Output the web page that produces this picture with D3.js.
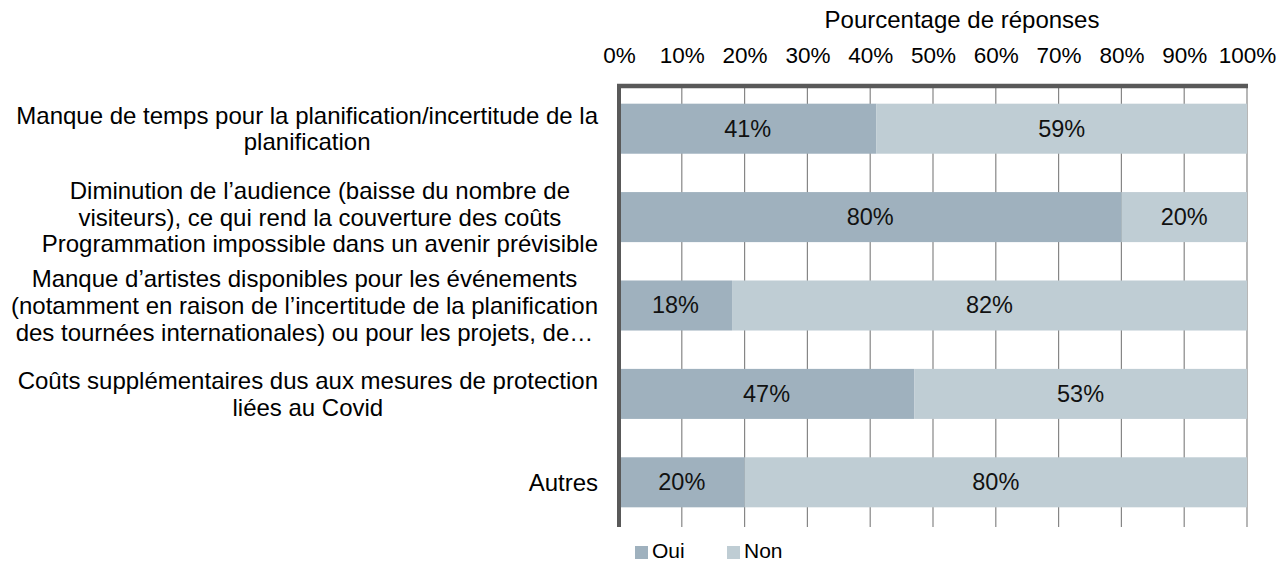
<!DOCTYPE html>
<html lang="fr">
<head>
<meta charset="UTF-8">
<title>Pourcentage de réponses</title>
<script src="https://cdnjs.cloudflare.com/ajax/libs/d3/7.8.5/d3.min.js"></script>
<style>
    body { margin: 0; background: #fff; }
    svg { font-family: 'Liberation Sans', Arial, sans-serif; }
</style>
</head>
<body>
<svg id="chart" width="1281" height="566"></svg>
<script>
    // categories (one entry per bar, already split into lines as in the picture)
    const categories = [
        ["Manque de temps pour la planification/incertitude de la", "planification"],
        ["Diminution de l\u2019audience (baisse du nombre de", "visiteurs), ce qui rend la couverture des coûts", "Programmation impossible dans un avenir prévisible"],
        ["Manque d\u2019artistes disponibles pour les événements", "(notamment en raison de l\u2019incertitude de la planification", "des tournées internationales) ou pour les projets, de\u2026"],
        ["Coûts supplémentaires dus aux mesures de protection", "liées au Covid"],
        ["Autres"]
    ];
    const oui = [41, 80, 18, 47, 20];
    const non = [59, 20, 82, 53, 80];
    const seriesNames = ["Oui", "Non"];
    const seriesColors = ["#9fb1be", "#bfcdd4"];
    const tickValues = [0, 10, 20, 30, 40, 50, 60, 70, 80, 90, 100];

    const svg = d3.select("#chart");
    const plotLeft = 619, plotRight = 1247, plotTop = 85, plotBottom = 527;

    const x = d3.scaleLinear().domain([0, 100]).range([plotLeft, plotRight]);
    const y = d3.scaleBand().domain(d3.range(categories.length))
        .range([plotTop - 0.5, plotBottom - 0.5]).paddingInner(0.434).paddingOuter(0.217);

    // title
    svg.append("text")
        .attr("x", 962)
        .attr("y", 28)
        .attr("text-anchor", "middle")
        .attr("font-size", 24)
        .attr("fill", "#000")
        .text("Pourcentage de réponses");

    // top axis labels
    const axis = svg.append("g")
        .attr("transform", `translate(0,${plotTop})`)
        .call(d3.axisTop(x).tickValues(tickValues).tickSize(0).tickPadding(22).tickFormat(d => d + "%"));
    axis.select(".domain").remove();
    axis.attr("font-family", null);
    axis.selectAll("text").attr("font-size", 22.5).attr("fill", "#000").attr("dy", 0);

    // gridlines
    svg.append("g").selectAll("line")
        .data(tickValues.slice(1))
        .enter().append("line")
        .attr("x1", d => x(d)).attr("x2", d => x(d))
        .attr("y1", plotTop).attr("y2", plotBottom)
        .attr("stroke", "#868686")
        .attr("stroke-width", 1.2);

    // stacked bars
    const rows = categories.map((c, i) => ({ i, values: [oui[i], non[i]] }));
    const seg = svg.append("g").selectAll("g")
        .data(rows)
        .enter().append("g");

    seg.each(function(d) {
        const g = d3.select(this);
        let start = 0;
        d.values.forEach((v, k) => {
            g.append("rect")
                .attr("x", x(start))
                .attr("y", y(d.i))
                .attr("width", x(start + v) - x(start))
                .attr("height", y.bandwidth())
                .attr("fill", seriesColors[k]);
            g.append("text")
                .attr("x", x(start + v / 2))
                .attr("y", y(d.i) + y.bandwidth() / 2)
                .attr("dy", "0.34em")
                .attr("text-anchor", "middle")
                .attr("font-size", 23.5)
                .attr("fill", "#111")
                .text(v + "%");
            start += v;
        });
    });

    // axis frame: thick top and left lines
    svg.append("line")
        .attr("x1", plotLeft - 2).attr("x2", plotRight + 1)
        .attr("y1", plotTop + 1).attr("y2", plotTop + 1)
        .attr("stroke", "#595959").attr("stroke-width", 4.5);
    svg.append("line")
        .attr("x1", plotLeft).attr("x2", plotLeft)
        .attr("y1", plotTop - 1).attr("y2", plotBottom)
        .attr("stroke", "#595959").attr("stroke-width", 4);

    // category labels, each block centred on its widest line, right edge near the axis
    const lineH = 26.6;
    const labelRight = 598;
    categories.forEach((lines, i) => {
        const cy = y(i) + y.bandwidth() / 2;
        const t = svg.append("text")
            .attr("font-size", 24)
            .attr("fill", "#000")
            .attr("text-anchor", "middle");
        const spans = lines.map((s, k) => t.append("tspan")
            .attr("y", cy + (k - (lines.length - 1) / 2) * lineH)
            .attr("dy", "0.35em")
            .text(s));
        const maxW = d3.max(spans, s => s.node().getComputedTextLength());
        spans.forEach(s => s.attr("x", labelRight - maxW / 2));
    });

    // legend (kept fully inside the picture)
    const legend = svg.append("g").attr("transform", "translate(635,558)");
    const legX = [0, 92];
    seriesNames.forEach((n, k) => {
        legend.append("rect")
            .attr("x", legX[k]).attr("y", -12)
            .attr("width", 13).attr("height", 13)
            .attr("fill", seriesColors[k]);
        legend.append("text")
            .attr("x", legX[k] + 17).attr("y", 0)
            .attr("font-size", 21)
            .text(n);
    });
</script>
</body>
</html>
